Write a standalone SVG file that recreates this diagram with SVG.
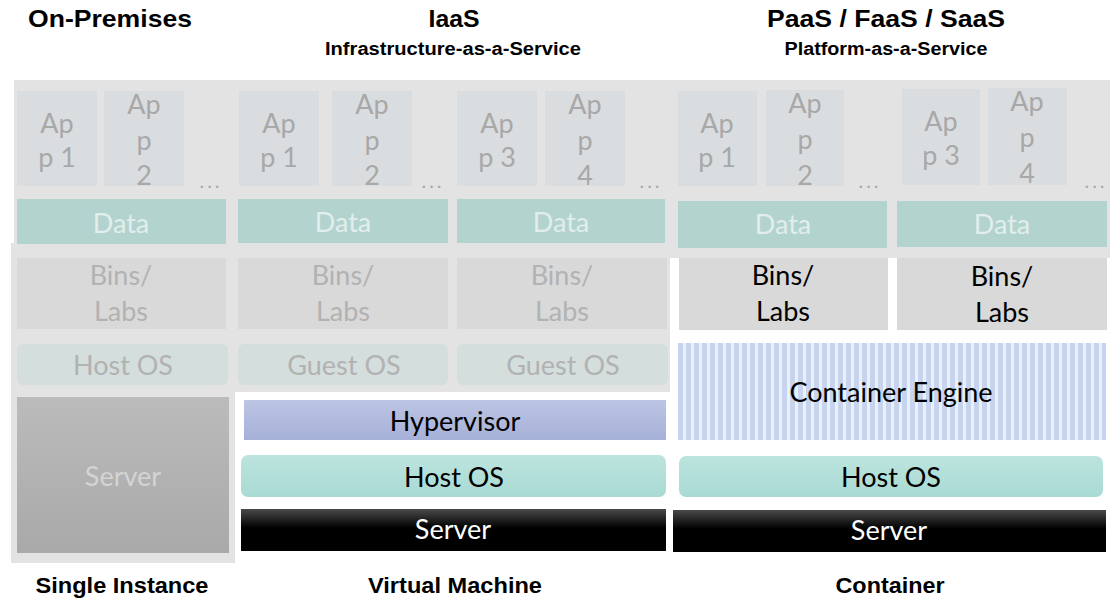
<svg xmlns="http://www.w3.org/2000/svg" width="1113" height="609" viewBox="0 0 1113 609">
<defs>
<style>
.h{font-family:"Liberation Sans",Arial,sans-serif;font-weight:bold;fill:#000;text-anchor:middle}
.t{font-family:Lato,"Open Sans",sans-serif;text-anchor:middle;font-size:27px}
.app{fill:#dadddf}
.apt{fill:#a8a8a8;font-size:27px}
.dots{fill:#a8a8a8;font-size:20px;letter-spacing:3px}
.dataf{fill:#b2d3ce}
.datat{fill:#e2eeec}
.binf{fill:#d9d9d9}
.bint{fill:#b2b2b2}
.hostf{fill:#d4dedd}
.bin{fill:#d9d9d9}
.blk{fill:#000}
.wht{fill:#fff}
</style>
<linearGradient id="gSrvF" x1="0" y1="0" x2="0" y2="1"><stop offset="0" stop-color="#bbbbbb"/><stop offset="1" stop-color="#a9a9a9"/></linearGradient>
<linearGradient id="gHyp" x1="0" y1="0" x2="0" y2="1"><stop offset="0" stop-color="#bcc5e3"/><stop offset="1" stop-color="#a6b1d8"/></linearGradient>
<linearGradient id="gHost" x1="0" y1="0" x2="0" y2="1"><stop offset="0" stop-color="#bde4df"/><stop offset="1" stop-color="#a8dad3"/></linearGradient>
<linearGradient id="gSrv" x1="0" y1="0" x2="0" y2="1"><stop offset="0" stop-color="#4a4a4a"/><stop offset="0.45" stop-color="#000"/><stop offset="1" stop-color="#000"/></linearGradient>
<pattern id="stripes" patternUnits="userSpaceOnUse" x="678" y="0" width="8" height="10"><rect width="8" height="10" fill="#e2f4f6"/><rect x="0" width="5" height="10" fill="#c9d2ef"/></pattern>
</defs>
<rect width="1113" height="609" fill="#fff"/>

<g id="headings">
<text class="h" x="110" y="27" font-size="24" textLength="164" lengthAdjust="spacingAndGlyphs">On-Premises</text>
<text class="h" x="454" y="27" font-size="24" textLength="51" lengthAdjust="spacingAndGlyphs">IaaS</text>
<text class="h" x="453" y="55" font-size="18" textLength="256" lengthAdjust="spacingAndGlyphs">Infrastructure-as-a-Service</text>
<text class="h" x="886" y="27" font-size="24" textLength="238" lengthAdjust="spacingAndGlyphs">PaaS / FaaS / SaaS</text>
<text class="h" x="886" y="55" font-size="18" textLength="203" lengthAdjust="spacingAndGlyphs">Platform-as-a-Service</text>
</g>

<path id="faded-area" d="M14,80 H1110 V258 H670 V392 H235 V563 H11 V243 H14 Z" fill="#e3e3e3"/>

<g id="apps-onprem">
<rect class="app" x="17" y="91" width="80" height="95"/>
<text class="t apt" x="57" y="133">Ap</text><text class="t apt" x="57" y="167">p 1</text>
<rect class="app" x="104" y="91" width="80" height="95"/>
<text class="t apt" x="144" y="114">Ap</text><text class="t apt" x="144" y="150">p</text><text class="t apt" x="144" y="185">2</text>
<text class="t dots" x="211" y="188">...</text>
</g>
<g id="apps-vm1">
<rect class="app" x="239" y="91" width="80" height="95"/>
<text class="t apt" x="279" y="133">Ap</text><text class="t apt" x="279" y="167">p 1</text>
<rect class="app" x="332" y="91" width="80" height="95"/>
<text class="t apt" x="372" y="114">Ap</text><text class="t apt" x="372" y="150">p</text><text class="t apt" x="372" y="185">2</text>
<text class="t dots" x="433" y="188">...</text>
</g>
<g id="apps-vm2">
<rect class="app" x="457" y="91" width="80" height="95"/>
<text class="t apt" x="497" y="133">Ap</text><text class="t apt" x="497" y="167">p 3</text>
<rect class="app" x="545" y="91" width="80" height="95"/>
<text class="t apt" x="585" y="114">Ap</text><text class="t apt" x="585" y="150">p</text><text class="t apt" x="585" y="185">4</text>
<text class="t dots" x="651" y="188">...</text>
</g>
<g id="apps-c1">
<rect class="app" x="678" y="91" width="79" height="95"/>
<text class="t apt" x="717" y="133">Ap</text><text class="t apt" x="717" y="167">p 1</text>
<rect class="app" x="766" y="90" width="78" height="96"/>
<text class="t apt" x="805" y="113">Ap</text><text class="t apt" x="805" y="149">p</text><text class="t apt" x="805" y="185">2</text>
<text class="t dots" x="870" y="188">...</text>
</g>
<g id="apps-c2">
<rect class="app" x="902" y="89" width="78" height="96"/>
<text class="t apt" x="941" y="131">Ap</text><text class="t apt" x="941" y="165">p 3</text>
<rect class="app" x="988" y="88" width="79" height="97"/>
<text class="t apt" x="1027" y="111">Ap</text><text class="t apt" x="1027" y="147">p</text><text class="t apt" x="1027" y="183">4</text>
<text class="t dots" x="1096" y="188">...</text>
</g>

<g id="data-onprem"><rect class="dataf" x="17" y="199" width="209" height="45"/><text class="t datat" x="121" y="233">Data</text></g>
<g id="data-vm1"><rect class="dataf" x="238" y="199" width="210" height="44"/><text class="t datat" x="343" y="232">Data</text></g>
<g id="data-vm2"><rect class="dataf" x="457" y="199" width="208" height="44"/><text class="t datat" x="561" y="232">Data</text></g>
<g id="data-c1"><rect class="dataf" x="678" y="201" width="209" height="47"/><text class="t datat" x="783" y="234">Data</text></g>
<g id="data-c2"><rect class="dataf" x="897" y="201" width="210" height="46"/><text class="t datat" x="1002" y="234">Data</text></g>

<g id="bins-onprem"><rect class="binf" x="17" y="258" width="209" height="71"/><text class="t bint" x="121" y="285">Bins/</text><text class="t bint" x="121" y="321">Labs</text></g>
<g id="bins-vm1"><rect class="binf" x="238" y="258" width="210" height="71"/><text class="t bint" x="343" y="285">Bins/</text><text class="t bint" x="343" y="321">Labs</text></g>
<g id="bins-vm2"><rect class="binf" x="457" y="258" width="210" height="71"/><text class="t bint" x="562" y="285">Bins/</text><text class="t bint" x="562" y="321">Labs</text></g>

<g id="hostos-onprem"><rect class="hostf" x="17" y="344" width="211" height="41" rx="6"/><text class="t bint" x="123" y="375">Host OS</text></g>
<g id="guestos-vm1"><rect class="hostf" x="238" y="344" width="210" height="41" rx="6"/><text class="t bint" x="344" y="375">Guest OS</text></g>
<g id="guestos-vm2"><rect class="hostf" x="457" y="344" width="211" height="41" rx="6"/><text class="t bint" x="563" y="375">Guest OS</text></g>

<g id="server-onprem"><rect x="17" y="397" width="212" height="156" fill="url(#gSrvF)"/><text class="t" x="123" y="486" fill="#d4d4d4">Server</text></g>

<g id="hypervisor"><rect x="244" y="400" width="422" height="40" fill="url(#gHyp)"/><text class="t blk" x="455" y="431">Hypervisor</text></g>
<g id="hostos-vm"><rect x="241" y="455" width="425" height="42" rx="7" fill="url(#gHost)"/><text class="t blk" x="454" y="487">Host OS</text></g>
<g id="server-vm"><rect x="241" y="509" width="425" height="42" fill="url(#gSrv)"/><text class="t wht" x="453" y="539">Server</text></g>

<g id="bins-c1"><rect class="bin" x="679" y="258" width="209" height="72"/><text class="t blk" x="783" y="285">Bins/</text><text class="t blk" x="783" y="321">Labs</text></g>
<g id="bins-c2"><rect class="bin" x="897" y="258" width="210" height="72"/><text class="t blk" x="1002" y="286">Bins/</text><text class="t blk" x="1002" y="322">Labs</text></g>
<g id="container-engine"><rect x="678" y="343" width="428" height="97" fill="url(#stripes)"/><text class="t blk" x="891" y="402">Container Engine</text></g>
<g id="hostos-c"><rect x="679" y="456" width="424" height="41" rx="7" fill="url(#gHost)"/><text class="t blk" x="891" y="487">Host OS</text></g>
<g id="server-c"><rect x="673" y="510" width="433" height="42" fill="url(#gSrv)"/><text class="t wht" x="889" y="540">Server</text></g>

<g id="footers">
<text class="h" x="122" y="593" font-size="22" textLength="173" lengthAdjust="spacingAndGlyphs">Single Instance</text>
<text class="h" x="455" y="593" font-size="22" textLength="174" lengthAdjust="spacingAndGlyphs">Virtual Machine</text>
<text class="h" x="890" y="593" font-size="22" textLength="109" lengthAdjust="spacingAndGlyphs">Container</text>
</g>
</svg>
